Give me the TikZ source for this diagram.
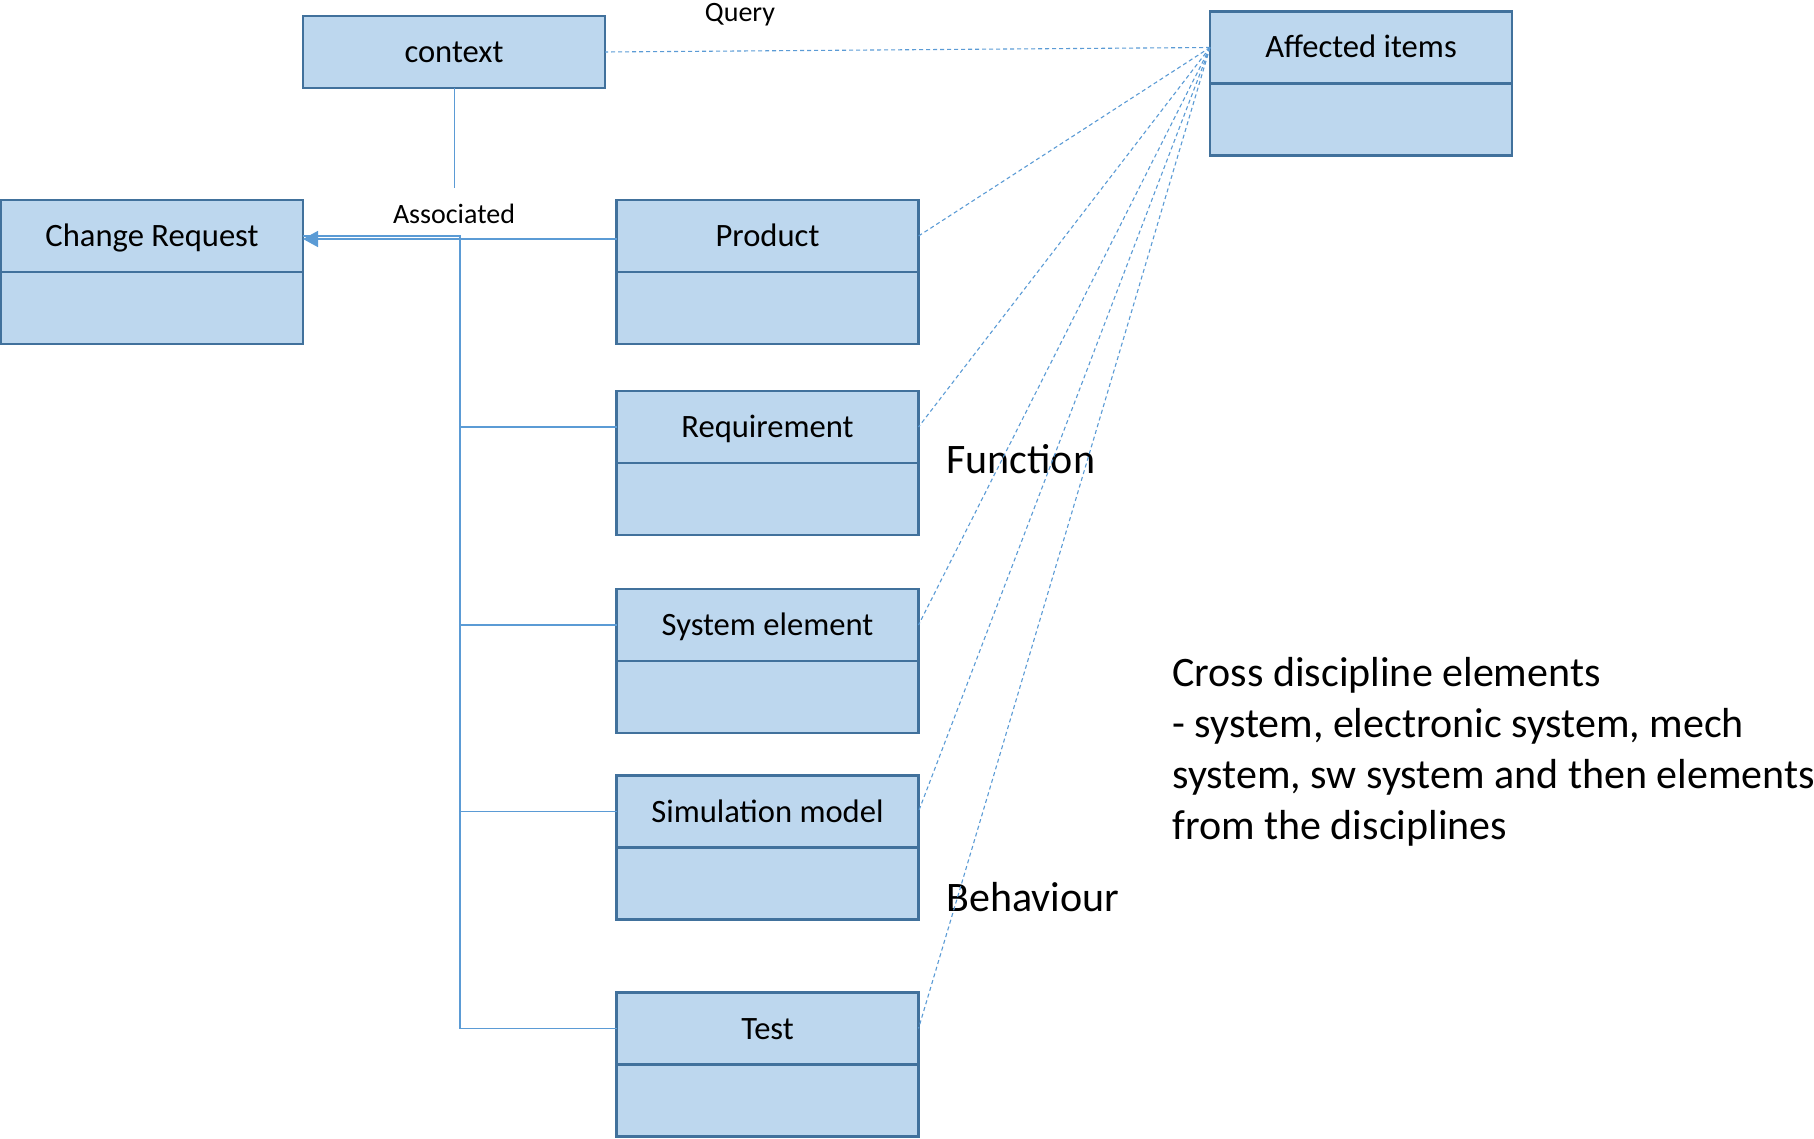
\documentclass[tikz,border=0pt]{standalone}
\usepackage{fontspec}
\setmainfont{Carlito}
\usetikzlibrary{positioning, arrows.meta}
\definecolor{boxfill}{HTML}{BDD7EE}
\definecolor{boxline}{HTML}{41719C}
\definecolor{linkblue}{HTML}{5B9BD5}

\begin{document}
\begin{tikzpicture}[x=0.5pt, y=-0.5pt, classhead/.style={rectangle,
            draw=boxline, fill=boxfill, line width=1.25pt, outer sep=0pt,
            minimum width=151pt, minimum height=36pt, inner sep=0pt,
            text height=10.5pt, text depth=0pt,
            font=\fontsize{16.3}{19}\selectfont}, classbody/.style={classhead},
        link/.style={draw=linkblue, line width=0.8pt}, query/.style={draw=linkblue,
            line width=0.55pt, dash pattern=on 2pt off 1.5pt},
        smalllabel/.style={inner sep=0pt, font=\fontsize{14}{17}\selectfont},
        biglabel/.style={inner sep=0pt, font=\fontsize{21}{25.5}\selectfont}, ]

        \useasboundingbox (0,0) rectangle (1814,1139);

        \node[classhead] (context) at (454,52) {context};

        \node[classhead] (affected) at (1361,47.5) {Affected items};
        \node[classbody] (affected-b) [below=0pt of affected] {};

        \node[classhead] (cr) at (152,236) {Change Request};
        \node[classbody] (cr-b) [below=0pt of cr] {};

        \node[classhead] (product) at (767.5,236) {Product};
        \node[classbody] (product-b) [below=0pt of product] {};

        \node[classhead] (requirement) at (767.5,427) {Requirement};
        \node[classbody] (requirement-b) [below=0pt of requirement] {};

        \node[classhead] (syselem) at (767.5,625) {System element};
        \node[classbody] (syselem-b) [below=0pt of syselem] {};

        \node[classhead] (simmodel) at (767.5,811.5) {Simulation model};
        \node[classbody] (simmodel-b) [below=0pt of simmodel] {};

        \node[classhead] (test) at (767.5,1028.5) {Test};
        \node[classbody] (test-b) [below=0pt of test] {};

        \node[smalllabel] (querylbl) at (740,15) {Query};
        \node[smalllabel] (assoclbl) at (454,214) {Associated};

        \node[biglabel, anchor=west] (functionlbl) at (946,459) {Function};
        \node[biglabel, anchor=west] (behaviourlbl) at (946,897) {Behaviour};

        \node[biglabel, anchor=north west, align=left] (crossnote) at
        (1172,657) {Cross discipline elements\\- system, electronic system,
            mech\\system, sw system and then elements\\from the disciplines};

        \coordinate (ctxend) at (454,188);
        \coordinate (bustop) at (460,236);

        \draw[link, line width=0.5pt] (context.south) -- (ctxend);

        \draw[link, -{Triangle[length=7.5pt, width=8pt]}]
        ([yshift=-1.5pt]product.west) -- ([yshift=-1.5pt]cr.east);
        \draw[link] (test.west) -| (bustop) -- (bustop -| cr.east);
        \foreach \n in {requirement, syselem, simmodel}
        \draw[link] (\n.west) -- (\n.west -| bustop);

        \foreach \n in {context, product, requirement, syselem, simmodel, test}
        \draw[query] (affected.west) -- (\n.east);
    \end{tikzpicture}
\end{document}
